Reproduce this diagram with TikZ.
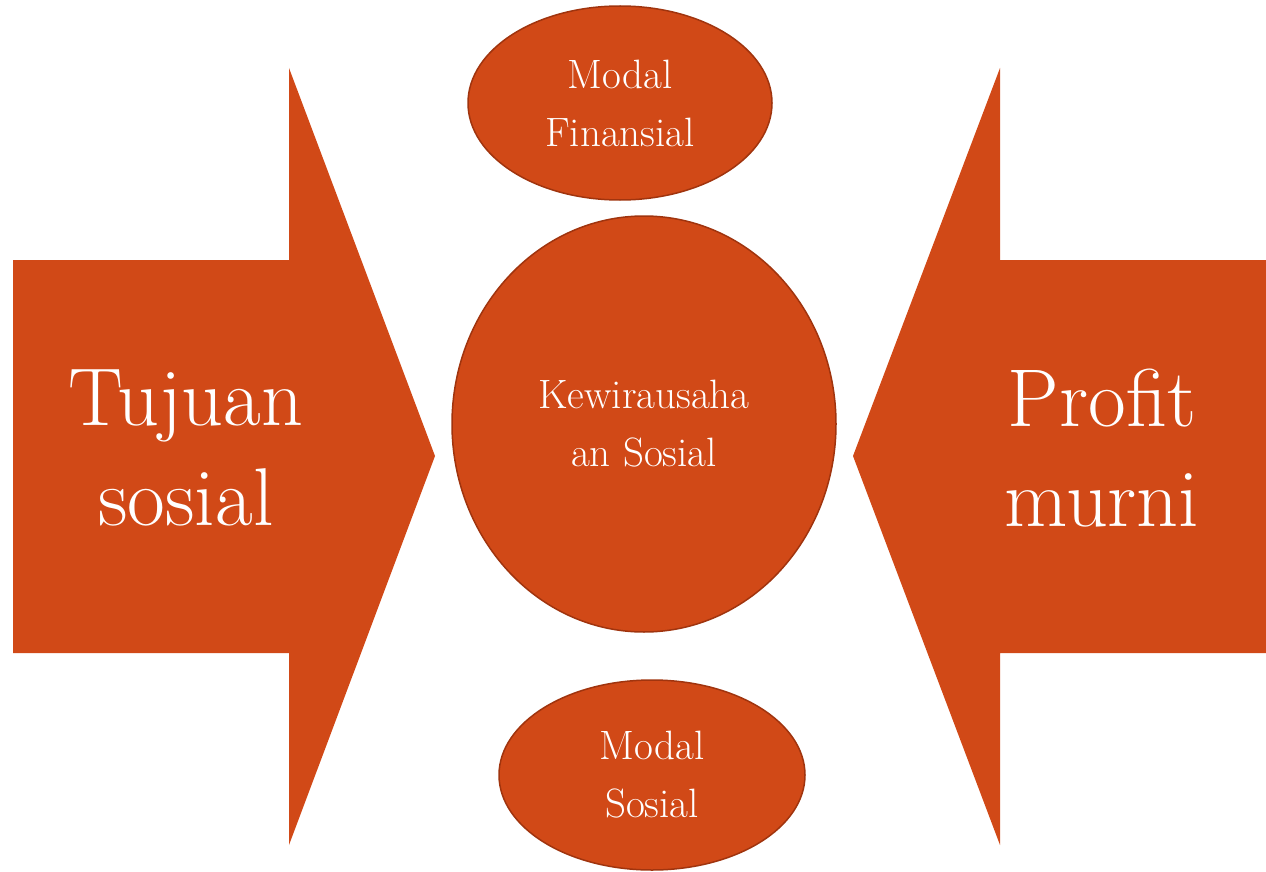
\documentclass[tikz,border=0pt]{standalone}
\usetikzlibrary{shapes.geometric}
\definecolor{rust}{RGB}{209,73,23}
\definecolor{rustdark}{RGB}{160,52,14}
\begin{document}
\begin{tikzpicture}[x=1pt,y=-1pt,
  bigarrow/.style={fill=rust,draw=none},
  blob/.style={ellipse,fill=rust,draw=rustdark,line width=1.5pt,inner sep=0pt,text=white,align=center,font=\fontsize{41}{58}\selectfont},
  bigtext/.style={text=white,align=center,font=\fontsize{82}{100}\selectfont}]
\useasboundingbox (0,0) rectangle (1266,872);
\fill[bigarrow] (13,260) -- (289,260) -- (289,68) -- (435,456) -- (289,845) -- (289,653) -- (13,653) -- cycle;
\fill[bigarrow] (1266,260) -- (1000,260) -- (1000,68) -- (853,456) -- (1000,845) -- (1000,653) -- (1266,653) -- cycle;
\node[bigtext] (tujuan) at (186,448) {Tujuan\\sosial};
\node[bigtext] (profit) at (1102,448) {Profit\\murni};
\node[blob,minimum width=304pt,minimum height=194pt] (finansial) at (620,103) {Modal\\Finansial};
\node[blob,minimum width=384pt,minimum height=416pt] (kewira) at (644,424) {Kewirausaha\\an Sosial};
\node[blob,minimum width=306pt,minimum height=190pt] (sosial) at (652,775) {Modal\\Sosial};
\end{tikzpicture}
\end{document}
